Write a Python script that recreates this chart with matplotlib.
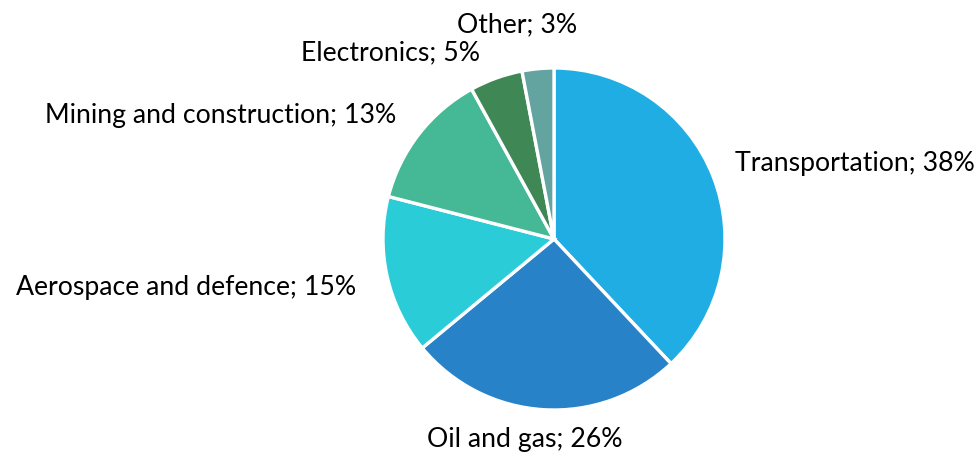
import matplotlib.pyplot as plt

categories = ["Transportation", "Oil and gas", "Aerospace and defence",
              "Mining and construction", "Electronics", "Other"]
shares = [38, 26, 15, 13, 5, 3]
colors = ["#20ADE3", "#2882C7", "#2ACDD7", "#45B995", "#3F8855", "#63A3A0"]

# label anchor positions in pixel space (x, y from top), with alignment
label_pos = [(735, 163, "left"), (525, 440, "center"), (356, 288, "right"),
             (396, 116, "right"), (480, 53, "right"), (577, 25, "right")]

W, H = 979, 456
fig = plt.figure(figsize=(W / 100, H / 100), dpi=100)
ax = fig.add_axes([0, 0, 1, 1])

ax.pie(shares, colors=colors, startangle=90, counterclock=False,
       center=(554, H - 240), radius=171,
       wedgeprops=dict(edgecolor="white", linewidth=2.4))

# pie() resets the limits, so set pixel-space limits afterwards
ax.set_xlim(0, W)
ax.set_ylim(0, H)
ax.set_aspect("equal")
ax.axis("off")

for cat, val, (x, y, ha) in zip(categories, shares, label_pos):
    ax.text(x, H - y, f"{cat}; {val}%", ha=ha, va="center",
            fontsize=19.2, family="Lato", color="#000000")

fig.savefig("out.png", dpi=100)
